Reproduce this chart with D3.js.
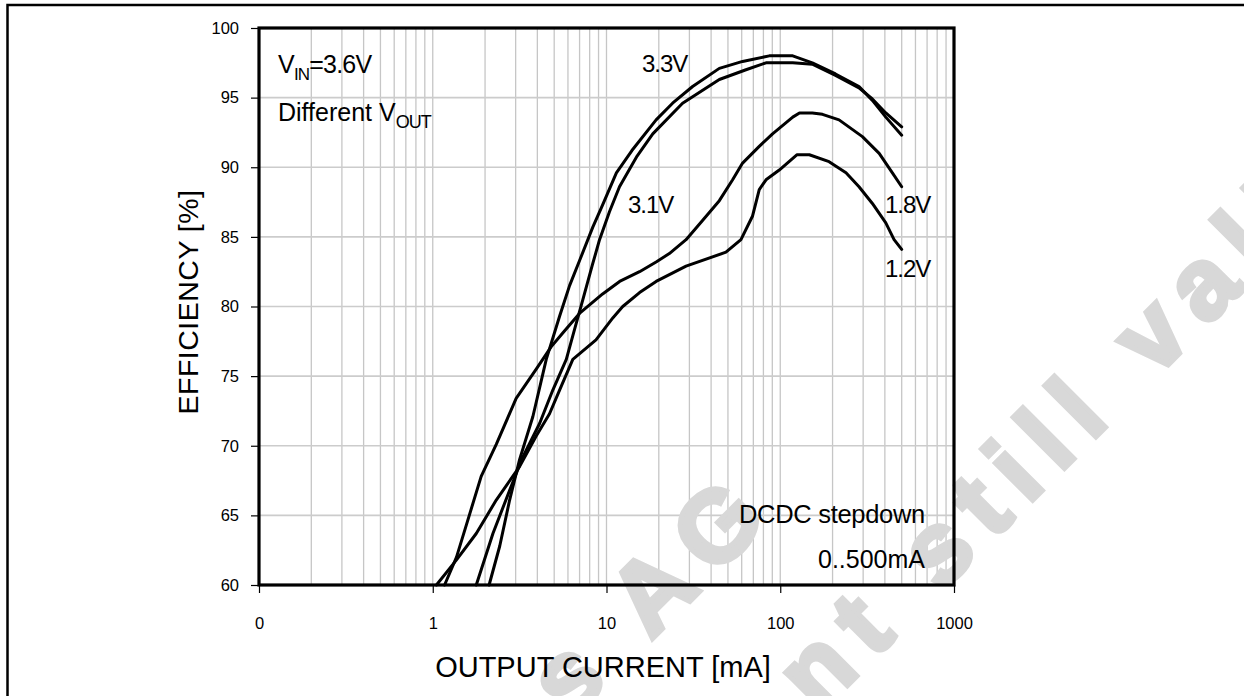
<!DOCTYPE html>
<html>
<head>
<meta charset="utf-8">
<script src="https://cdn.jsdelivr.net/npm/d3@7"></script>
<style>
  body { margin: 0; background: #fff; }
  text { font-family: "Liberation Sans", Arial, sans-serif; fill: #000; }
</style>
</head>
<body>
<div id="chart"></div>
<script>
// series: output current [mA] and efficiency [%]
const seriesNames = ['3.3V', '3.1V', '1.8V', '1.2V'];

const cur33 = [2.11, 2.43, 2.77, 3.16, 3.77, 4.5, 5.37, 6.13, 7.0, 8.34, 9.5, 11.4, 14, 19.3, 24, 31.3, 44.6, 60.7, 86.5, 118, 153, 208, 284, 339, 405, 500];
const eff33 = [60, 62.8, 66.1, 69.0, 72.1, 76.2, 79.3, 81.5, 83.3, 85.7, 87.3, 89.6, 91.2, 93.4, 94.6, 95.8, 97.1, 97.6, 98.0, 98.0, 97.5, 96.7, 95.8, 94.8, 93.6, 92.3];

const cur31 = [1.78, 2.22, 2.77, 3.30, 4.12, 4.91, 5.87, 6.7, 7.31, 8.3, 9.12, 10.4, 11.88, 15, 18.46, 27.4, 44.6, 63.5, 82.8, 118, 153, 208, 284, 339, 405, 500];
const eff31 = [60, 63.7, 66.8, 69.2, 71.6, 74.0, 76.2, 78.8, 80.5, 83.0, 84.8, 86.8, 88.6, 90.8, 92.4, 94.6, 96.3, 97.0, 97.5, 97.5, 97.4, 96.6, 95.7, 94.9, 93.9, 92.9];

const cur18 = [1.17, 1.37, 1.56, 1.90, 2.32, 3.02, 3.94, 4.8, 5.6, 6.99, 9.5, 11.9, 15.5, 19.3, 23.0, 28.7, 35.8, 44.6, 53.2, 60.7, 75.7, 90.3, 118, 129, 153, 175, 218, 297, 371, 442, 500];
const eff18 = [60, 62.0, 64.3, 67.8, 70.1, 73.4, 75.5, 77.1, 78.1, 79.5, 80.9, 81.8, 82.5, 83.2, 83.8, 84.8, 86.2, 87.6, 89.1, 90.3, 91.5, 92.4, 93.6, 93.9, 93.9, 93.8, 93.4, 92.2, 91.0, 89.6, 88.6];

const cur12 = [1.05, 1.37, 1.78, 2.32, 3.16, 3.94, 4.70, 5.37, 6.40, 8.7, 10.9, 12.4, 15.5, 19.3, 28.7, 48.7, 59.4, 69.3, 75.7, 82.8, 98.7, 125, 147, 191, 239, 284, 339, 405, 452, 500];
const eff12 = [60, 61.8, 63.7, 66.1, 68.5, 70.7, 72.3, 74.0, 76.2, 77.6, 79.2, 80.0, 81.0, 81.8, 82.9, 83.9, 84.8, 86.5, 88.4, 89.1, 89.8, 90.9, 90.9, 90.4, 89.6, 88.6, 87.4, 86.0, 84.8, 84.1];

const xTickValues = [0.1, 1, 10, 100, 1000];
const xTickLabels = ['0', '1', '10', '100', '1000'];
const yTickValues = [60, 65, 70, 75, 80, 85, 90, 95, 100];

const WIDTH = 1244;
const HEIGHT = 696;
const PLOT = { left: 259, right: 954, top: 28, bottom: 585 };

const series = [
    { name: seriesNames[0], cur: cur33, eff: eff33 },
    { name: seriesNames[1], cur: cur31, eff: eff31 },
    { name: seriesNames[2], cur: cur18, eff: eff18 },
    { name: seriesNames[3], cur: cur12, eff: eff12 }
];

const svg = d3.select('#chart')
    .append('svg')
    .attr('width', WIDTH)
    .attr('height', HEIGHT);

const x = d3.scaleLog().domain([0.1, 1000]).range([PLOT.left, PLOT.right]);
const y = d3.scaleLinear().domain([60, 100]).range([PLOT.bottom, PLOT.top]);

// page border (top and left edge of the document frame)
svg.append('path')
    .attr('d', `M7.5,${HEIGHT} V5 H${WIDTH}`)
    .attr('fill', 'none')
    .attr('stroke', '#000')
    .attr('stroke-width', 2.5);

// grid
svg.append('g')
    .selectAll('line')
    .data(x.ticks())
    .enter()
    .append('line')
    .attr('x1', d => x(d))
    .attr('x2', d => x(d))
    .attr('y1', PLOT.top)
    .attr('y2', PLOT.bottom)
    .attr('stroke', '#c6c6c6')
    .attr('stroke-width', 1.3);

svg.append('g')
    .selectAll('line')
    .data(yTickValues)
    .enter()
    .append('line')
    .attr('x1', PLOT.left)
    .attr('x2', PLOT.right)
    .attr('y1', d => y(d))
    .attr('y2', d => y(d))
    .attr('stroke', '#cccccc')
    .attr('stroke-width', 1.6);

// watermark, running diagonally across the page
const wm = svg.append('g')
    .attr('transform', 'rotate(-45)')
    .style('font-weight', 'bold')
    .style('font-size', '100px')
    .style('letter-spacing', '17px');
wm.append('text')
    .attr('x', -285)
    .attr('y', 913)
    .style('fill', '#d8d8d8')
    .style('stroke', '#d8d8d8')
    .style('stroke-width', 5)
    .text('ams AG');
wm.append('text')
    .attr('x', -930)
    .attr('y', 1084)
    .style('fill', '#d8d8d8')
    .style('stroke', '#d8d8d8')
    .style('stroke-width', 5)
    .text('Technical content still valid');

// axes
const yAxis = svg.append('g')
    .attr('transform', `translate(${PLOT.left},0)`)
    .call(d3.axisLeft(y).tickValues(yTickValues).tickSize(8).tickPadding(12));
yAxis.select('.domain').remove();
yAxis.selectAll('line').attr('stroke', '#000').attr('stroke-width', 1.2);
yAxis.selectAll('text')
    .style('font-size', '16.5px')
    .style('font-family', '"Liberation Sans", Arial, sans-serif');

const xAxis = svg.append('g')
    .attr('transform', `translate(0,${PLOT.bottom})`)
    .call(d3.axisBottom(x).tickValues(xTickValues)
        .tickFormat((d, i) => xTickLabels[i]).tickSize(8).tickPadding(24));
xAxis.select('.domain').remove();
xAxis.selectAll('line').attr('stroke', '#000').attr('stroke-width', 1.2);
xAxis.selectAll('text')
    .style('font-size', '16.5px')
    .style('font-family', '"Liberation Sans", Arial, sans-serif');

// plot frame
svg.append('rect')
    .attr('x', PLOT.left)
    .attr('y', PLOT.top)
    .attr('width', PLOT.right - PLOT.left)
    .attr('height', PLOT.bottom - PLOT.top)
    .attr('fill', 'none')
    .attr('stroke', '#000')
    .attr('stroke-width', 3.2);

// curves
const line = d3.line()
    .x(d => x(d[0]))
    .y(d => y(d[1]));

svg.append('g')
    .selectAll('path')
    .data(series)
    .enter()
    .append('path')
    .attr('d', s => line(s.cur.map((c, i) => [c, s.eff[i]])))
    .attr('fill', 'none')
    .attr('stroke', '#000')
    .attr('stroke-width', 3)
    .attr('stroke-linejoin', 'round')
    .attr('stroke-linecap', 'round');

// curve labels
const curveLabels = [
    { t: '3.3V', x: 642, y: 72 },
    { t: '3.1V', x: 628, y: 213 },
    { t: '1.8V', x: 885, y: 213 },
    { t: '1.2V', x: 885, y: 277 }
];
svg.append('g')
    .selectAll('text')
    .data(curveLabels)
    .enter()
    .append('text')
    .attr('x', d => d.x)
    .attr('y', d => d.y)
    .style('font-size', '24px')
    .style('letter-spacing', '-1px')
    .text(d => d.t);

// annotations
const vin = svg.append('text')
    .attr('x', 278)
    .attr('y', 73)
    .style('font-size', '25px')
    .style('letter-spacing', '-0.8px');
vin.append('tspan').text('V');
vin.append('tspan').attr('dy', 7).style('font-size', '17px').text('IN');
vin.append('tspan').attr('dy', -7).text('=3.6V');

const vout = svg.append('text')
    .attr('x', 278)
    .attr('y', 121)
    .style('font-size', '25px');
vout.append('tspan').text('Different V');
vout.append('tspan').attr('dy', 7).style('font-size', '18px').style('letter-spacing', '-1px').text('OUT');

svg.append('text')
    .attr('x', 925)
    .attr('y', 523)
    .attr('text-anchor', 'end')
    .style('font-size', '25.5px')
    .style('letter-spacing', '-0.3px')
    .text('DCDC stepdown');

svg.append('text')
    .attr('x', 925)
    .attr('y', 568)
    .attr('text-anchor', 'end')
    .style('font-size', '25px')
    .text('0..500mA');

// axis titles
svg.append('text')
    .attr('x', 603)
    .attr('y', 677)
    .attr('text-anchor', 'middle')
    .style('font-size', '29px')
    .text('OUTPUT CURRENT [mA]');

svg.append('text')
    .attr('transform', 'translate(198,302) rotate(-90)')
    .attr('text-anchor', 'middle')
    .style('font-size', '28.5px')
    .style('letter-spacing', '0.5px')
    .text('EFFICIENCY [%]');
</script>
</body>
</html>
